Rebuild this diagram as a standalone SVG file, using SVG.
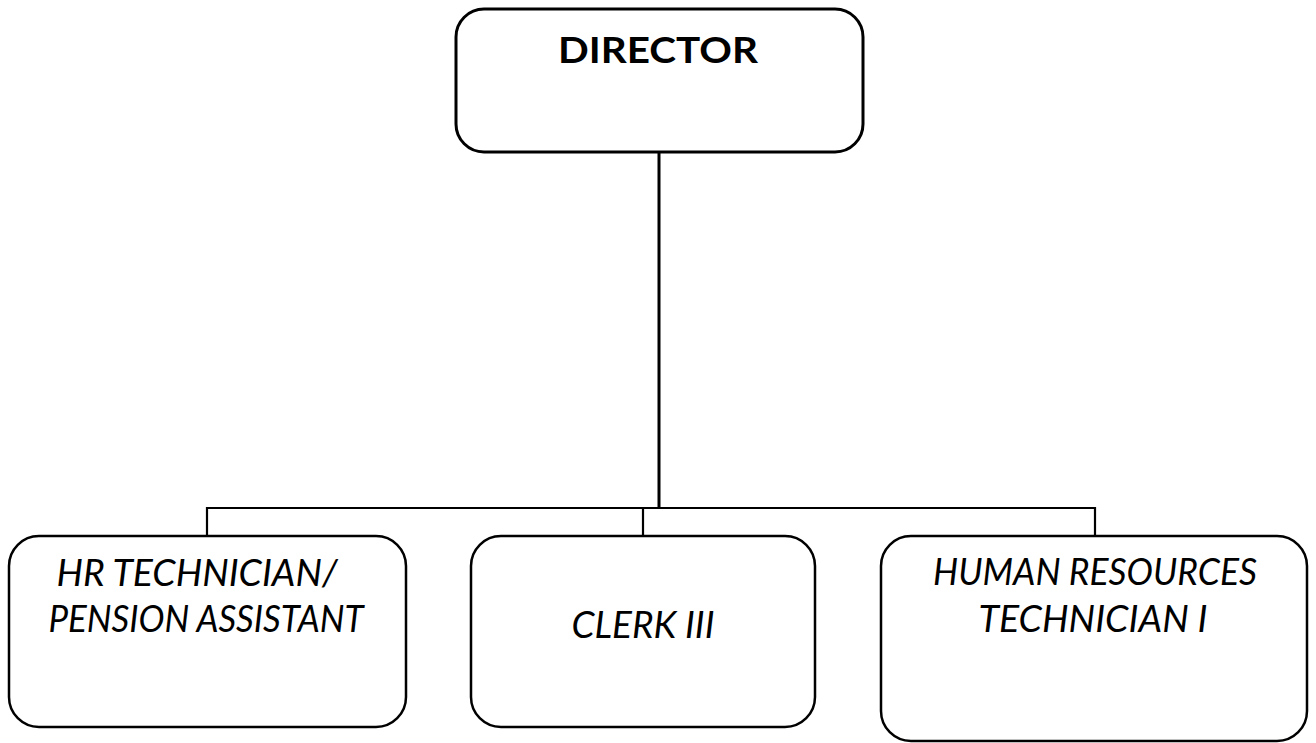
<svg xmlns="http://www.w3.org/2000/svg" width="1316" height="743" viewBox="0 0 1316 743">
  <style>
    .box { fill: #ffffff; stroke: #000000; stroke-width: 2.5; }
    .top { stroke-width: 3; }
    .wire { fill: none; stroke: #000000; stroke-width: 2.2; }
    .title { font-family: Lato, "Liberation Sans", Arial, sans-serif; font-weight: bold; font-size: 37px; text-anchor: middle; fill: #000; }
    .role { font-family: Lato, "Liberation Sans", Arial, sans-serif; font-style: italic; font-size: 37px; text-anchor: middle; fill: #000; }
  </style>
  <rect width="1316" height="743" fill="#ffffff"/>

  <!-- reporting lines -->
  <g id="connectors">
    <path class="wire" d="M659,152 V508" style="stroke-width:3"/>
    <path class="wire" d="M207,536 V508 H1095 V536"/>
    <path class="wire" d="M643,508 V536"/>
  </g>

  <g id="director">
    <rect class="box top" x="456" y="9" width="407" height="143" rx="28" ry="28"/>
    <text class="title" x="658" y="63" textLength="200" lengthAdjust="spacingAndGlyphs">DIRECTOR</text>
  </g>

  <g id="hr-technician">
    <rect class="box" x="9" y="536" width="397" height="191" rx="30" ry="30"/>
    <text class="role" x="197" y="586" textLength="281" lengthAdjust="spacingAndGlyphs">HR TECHNICIAN/</text>
    <text class="role" x="206" y="632" textLength="315" lengthAdjust="spacingAndGlyphs">PENSION ASSISTANT</text>
  </g>

  <g id="clerk">
    <rect class="box" x="471" y="536" width="344" height="191" rx="30" ry="30"/>
    <text class="role" x="643" y="638" textLength="143" lengthAdjust="spacingAndGlyphs">CLERK III</text>
  </g>

  <g id="hr-technician-i">
    <rect class="box" x="881" y="536" width="426" height="205" rx="30" ry="30"/>
    <text class="role" x="1095" y="585" textLength="324" lengthAdjust="spacingAndGlyphs">HUMAN RESOURCES</text>
    <text class="role" x="1093" y="632" textLength="229" lengthAdjust="spacingAndGlyphs">TECHNICIAN I</text>
  </g>
</svg>
